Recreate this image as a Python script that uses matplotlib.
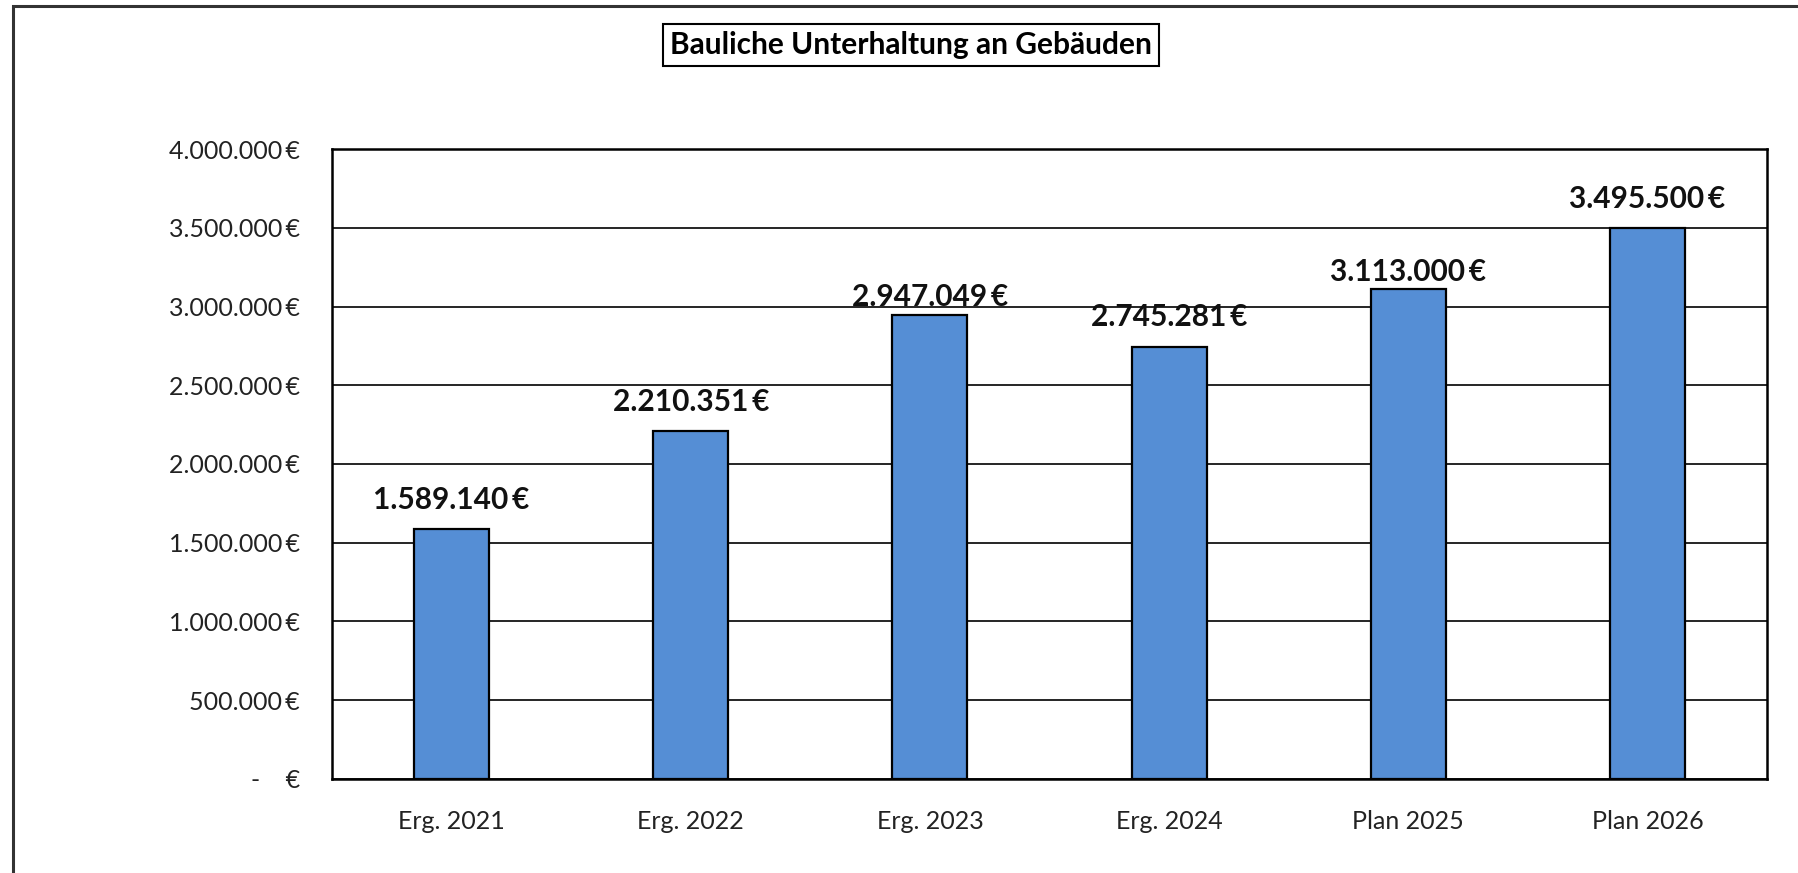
import matplotlib
matplotlib.use("Agg")
import matplotlib.pyplot as plt
from matplotlib.patches import Rectangle
from matplotlib.ticker import FuncFormatter, MultipleLocator

plt.rcParams['font.family'] = ['Lato', 'DejaVu Sans']

categories = ['Erg. 2021', 'Erg. 2022', 'Erg. 2023', 'Erg. 2024', 'Plan 2025', 'Plan 2026']
values = [1589140, 2210351, 2947049, 2745281, 3113000, 3495500]
title = 'Bauliche Unterhaltung an Gebäuden'

# label offsets above the bar tops (points), as placed in the original
label_pad = [21, 21, 13, 21, 12, 21]


def euro(v):
    return f'{v:,.0f}'.replace(',', '.') + '\u2009€'


def tick_fmt(v, pos):
    if abs(v) < 1:
        return '-    €'
    return euro(v)


fig = plt.figure(figsize=(17.98, 8.73), dpi=100)
ax = fig.add_axes([0.1846, 0.1077, 0.9828 - 0.1846, 0.8293 - 0.1077])

x = range(len(categories))
bars = ax.bar(x, values, width=0.314, color='#558ED5', edgecolor='black',
              linewidth=1.6, zorder=3)

ax.set_xlim(-0.5, len(categories) - 0.5)
ax.set_ylim(0, 4000000)
ax.yaxis.set_major_locator(MultipleLocator(500000))
ax.yaxis.set_major_formatter(FuncFormatter(tick_fmt))
ax.grid(axis='y', color='black', linewidth=1.2, zorder=0)
ax.set_axisbelow(True)

ax.set_xticks(list(x))
ax.set_xticklabels(categories)
ax.tick_params(axis='both', length=0, labelsize=18, colors='#222222')
ax.tick_params(axis='x', pad=22)
ax.tick_params(axis='y', pad=23)

for s in ax.spines.values():
    s.set_linewidth(1.8)
    s.set_color('black')

for b, v, p in zip(bars, values, label_pad):
    ax.annotate(euro(v), (b.get_x() + b.get_width() / 2, v),
                xytext=(0, p), textcoords='offset points',
                ha='center', va='center', fontsize=21.5, fontweight='bold',
                color='#111111', zorder=4)

fig.text(911 / 1798, 1 - 45 / 873, title, ha='center', va='center',
         fontsize=21.5, fontweight='bold',
         bbox=dict(boxstyle='square,pad=0.22', facecolor='white',
                   edgecolor='black', linewidth=1.5))

# outer chart frame (runs off the right and bottom edge of the picture)
fig.patches.append(Rectangle((13 / 1798, -0.1), 1.2, 1.1 - 6 / 873,
                             transform=fig.transFigure, fill=False,
                             edgecolor='#333333', linewidth=2.2))

fig.savefig('out.png', dpi=100)
